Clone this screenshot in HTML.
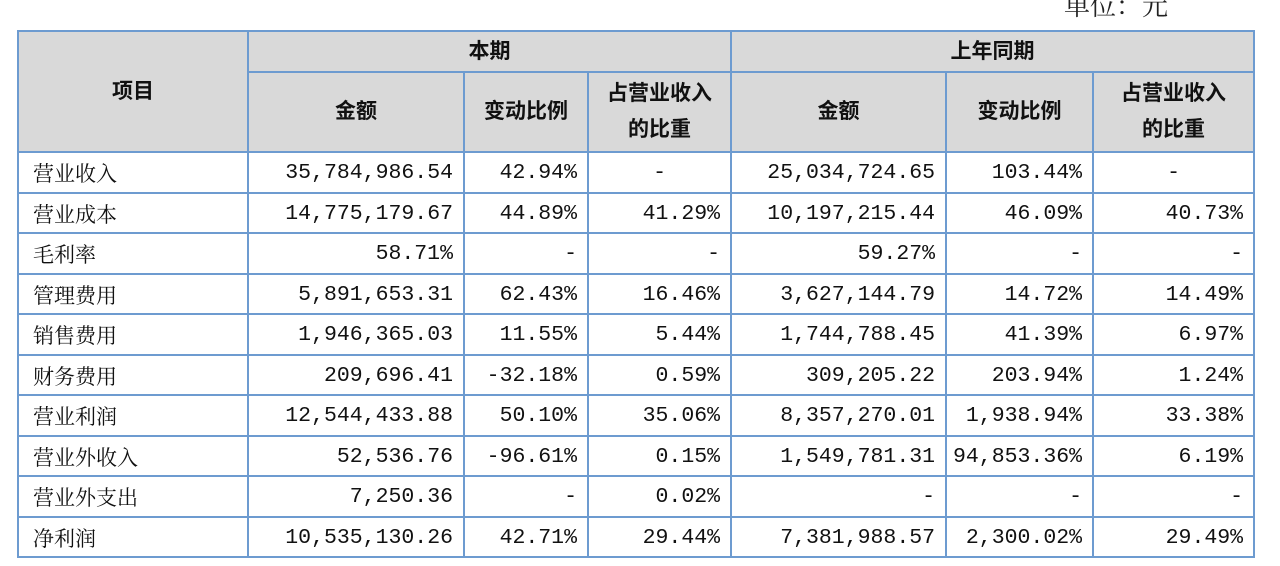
<!DOCTYPE html>
<html><head><meta charset="utf-8"><style>
body{margin:0;width:1280px;height:566px;background:#fff;overflow:hidden;position:relative;font-family:"Liberation Serif","Noto Serif CJK SC",serif;}
.unit{position:absolute;left:1064px;top:-14px;font-size:26px;color:#222;font-family:"Noto Serif CJK SC",serif;}
table{position:absolute;left:17px;top:30px;width:1236px;border-collapse:collapse;table-layout:fixed;}
td{border:2px solid #6d9bd0;padding:0 10px;font-size:20px;color:#111;white-space:nowrap;overflow:hidden;}
tr.d{height:40.5px;}
tr.d td{font-family:"Liberation Mono","Noto Serif CJK SC",monospace;font-size:21.5px;padding:2px 10px 0 2px;}
tr.d td.l{font-family:"Noto Serif CJK SC",serif;font-size:21px;padding-left:14px;}
tr.d td.c{padding-left:10px;}
td.h{background:#d9d9d9;font-family:"Liberation Sans","Noto Sans CJK SC",sans-serif;font-weight:bold;text-align:center;font-size:21px;line-height:36px;padding:0;}
td.r{text-align:right;}
td.c{text-align:center;}
td.l{text-align:left;}
</style></head><body>
<div class="unit">单位：元</div>
<table>
<colgroup><col style="width:230px"><col style="width:216px"><col style="width:124px"><col style="width:143px"><col style="width:215px"><col style="width:147px"><col style="width:161px"></colgroup>
<tr style="height:41px"><td class="h" rowspan="2">项目</td><td class="h" colspan="3">本期</td><td class="h" colspan="3">上年同期</td></tr>
<tr style="height:80px"><td class="h">金额</td><td class="h">变动比例</td><td class="h">占营业收入<br>的比重</td><td class="h">金额</td><td class="h">变动比例</td><td class="h">占营业收入<br>的比重</td></tr>
<tr class="d"><td class="l">营业收入</td><td class="r">35,784,986.54</td><td class="r">42.94%</td><td class="c">-</td><td class="r">25,034,724.65</td><td class="r">103.44%</td><td class="c">-</td></tr>
<tr class="d"><td class="l">营业成本</td><td class="r">14,775,179.67</td><td class="r">44.89%</td><td class="r">41.29%</td><td class="r">10,197,215.44</td><td class="r">46.09%</td><td class="r">40.73%</td></tr>
<tr class="d"><td class="l">毛利率</td><td class="r">58.71%</td><td class="r">-</td><td class="r">-</td><td class="r">59.27%</td><td class="r">-</td><td class="r">-</td></tr>
<tr class="d"><td class="l">管理费用</td><td class="r">5,891,653.31</td><td class="r">62.43%</td><td class="r">16.46%</td><td class="r">3,627,144.79</td><td class="r">14.72%</td><td class="r">14.49%</td></tr>
<tr class="d"><td class="l">销售费用</td><td class="r">1,946,365.03</td><td class="r">11.55%</td><td class="r">5.44%</td><td class="r">1,744,788.45</td><td class="r">41.39%</td><td class="r">6.97%</td></tr>
<tr class="d"><td class="l">财务费用</td><td class="r">209,696.41</td><td class="r">-32.18%</td><td class="r">0.59%</td><td class="r">309,205.22</td><td class="r">203.94%</td><td class="r">1.24%</td></tr>
<tr class="d"><td class="l">营业利润</td><td class="r">12,544,433.88</td><td class="r">50.10%</td><td class="r">35.06%</td><td class="r">8,357,270.01</td><td class="r">1,938.94%</td><td class="r">33.38%</td></tr>
<tr class="d"><td class="l">营业外收入</td><td class="r">52,536.76</td><td class="r">-96.61%</td><td class="r">0.15%</td><td class="r">1,549,781.31</td><td class="r">94,853.36%</td><td class="r">6.19%</td></tr>
<tr class="d"><td class="l">营业外支出</td><td class="r">7,250.36</td><td class="r">-</td><td class="r">0.02%</td><td class="r">-</td><td class="r">-</td><td class="r">-</td></tr>
<tr class="d"><td class="l">净利润</td><td class="r">10,535,130.26</td><td class="r">42.71%</td><td class="r">29.44%</td><td class="r">7,381,988.57</td><td class="r">2,300.02%</td><td class="r">29.49%</td></tr>
</table>
</body></html>
